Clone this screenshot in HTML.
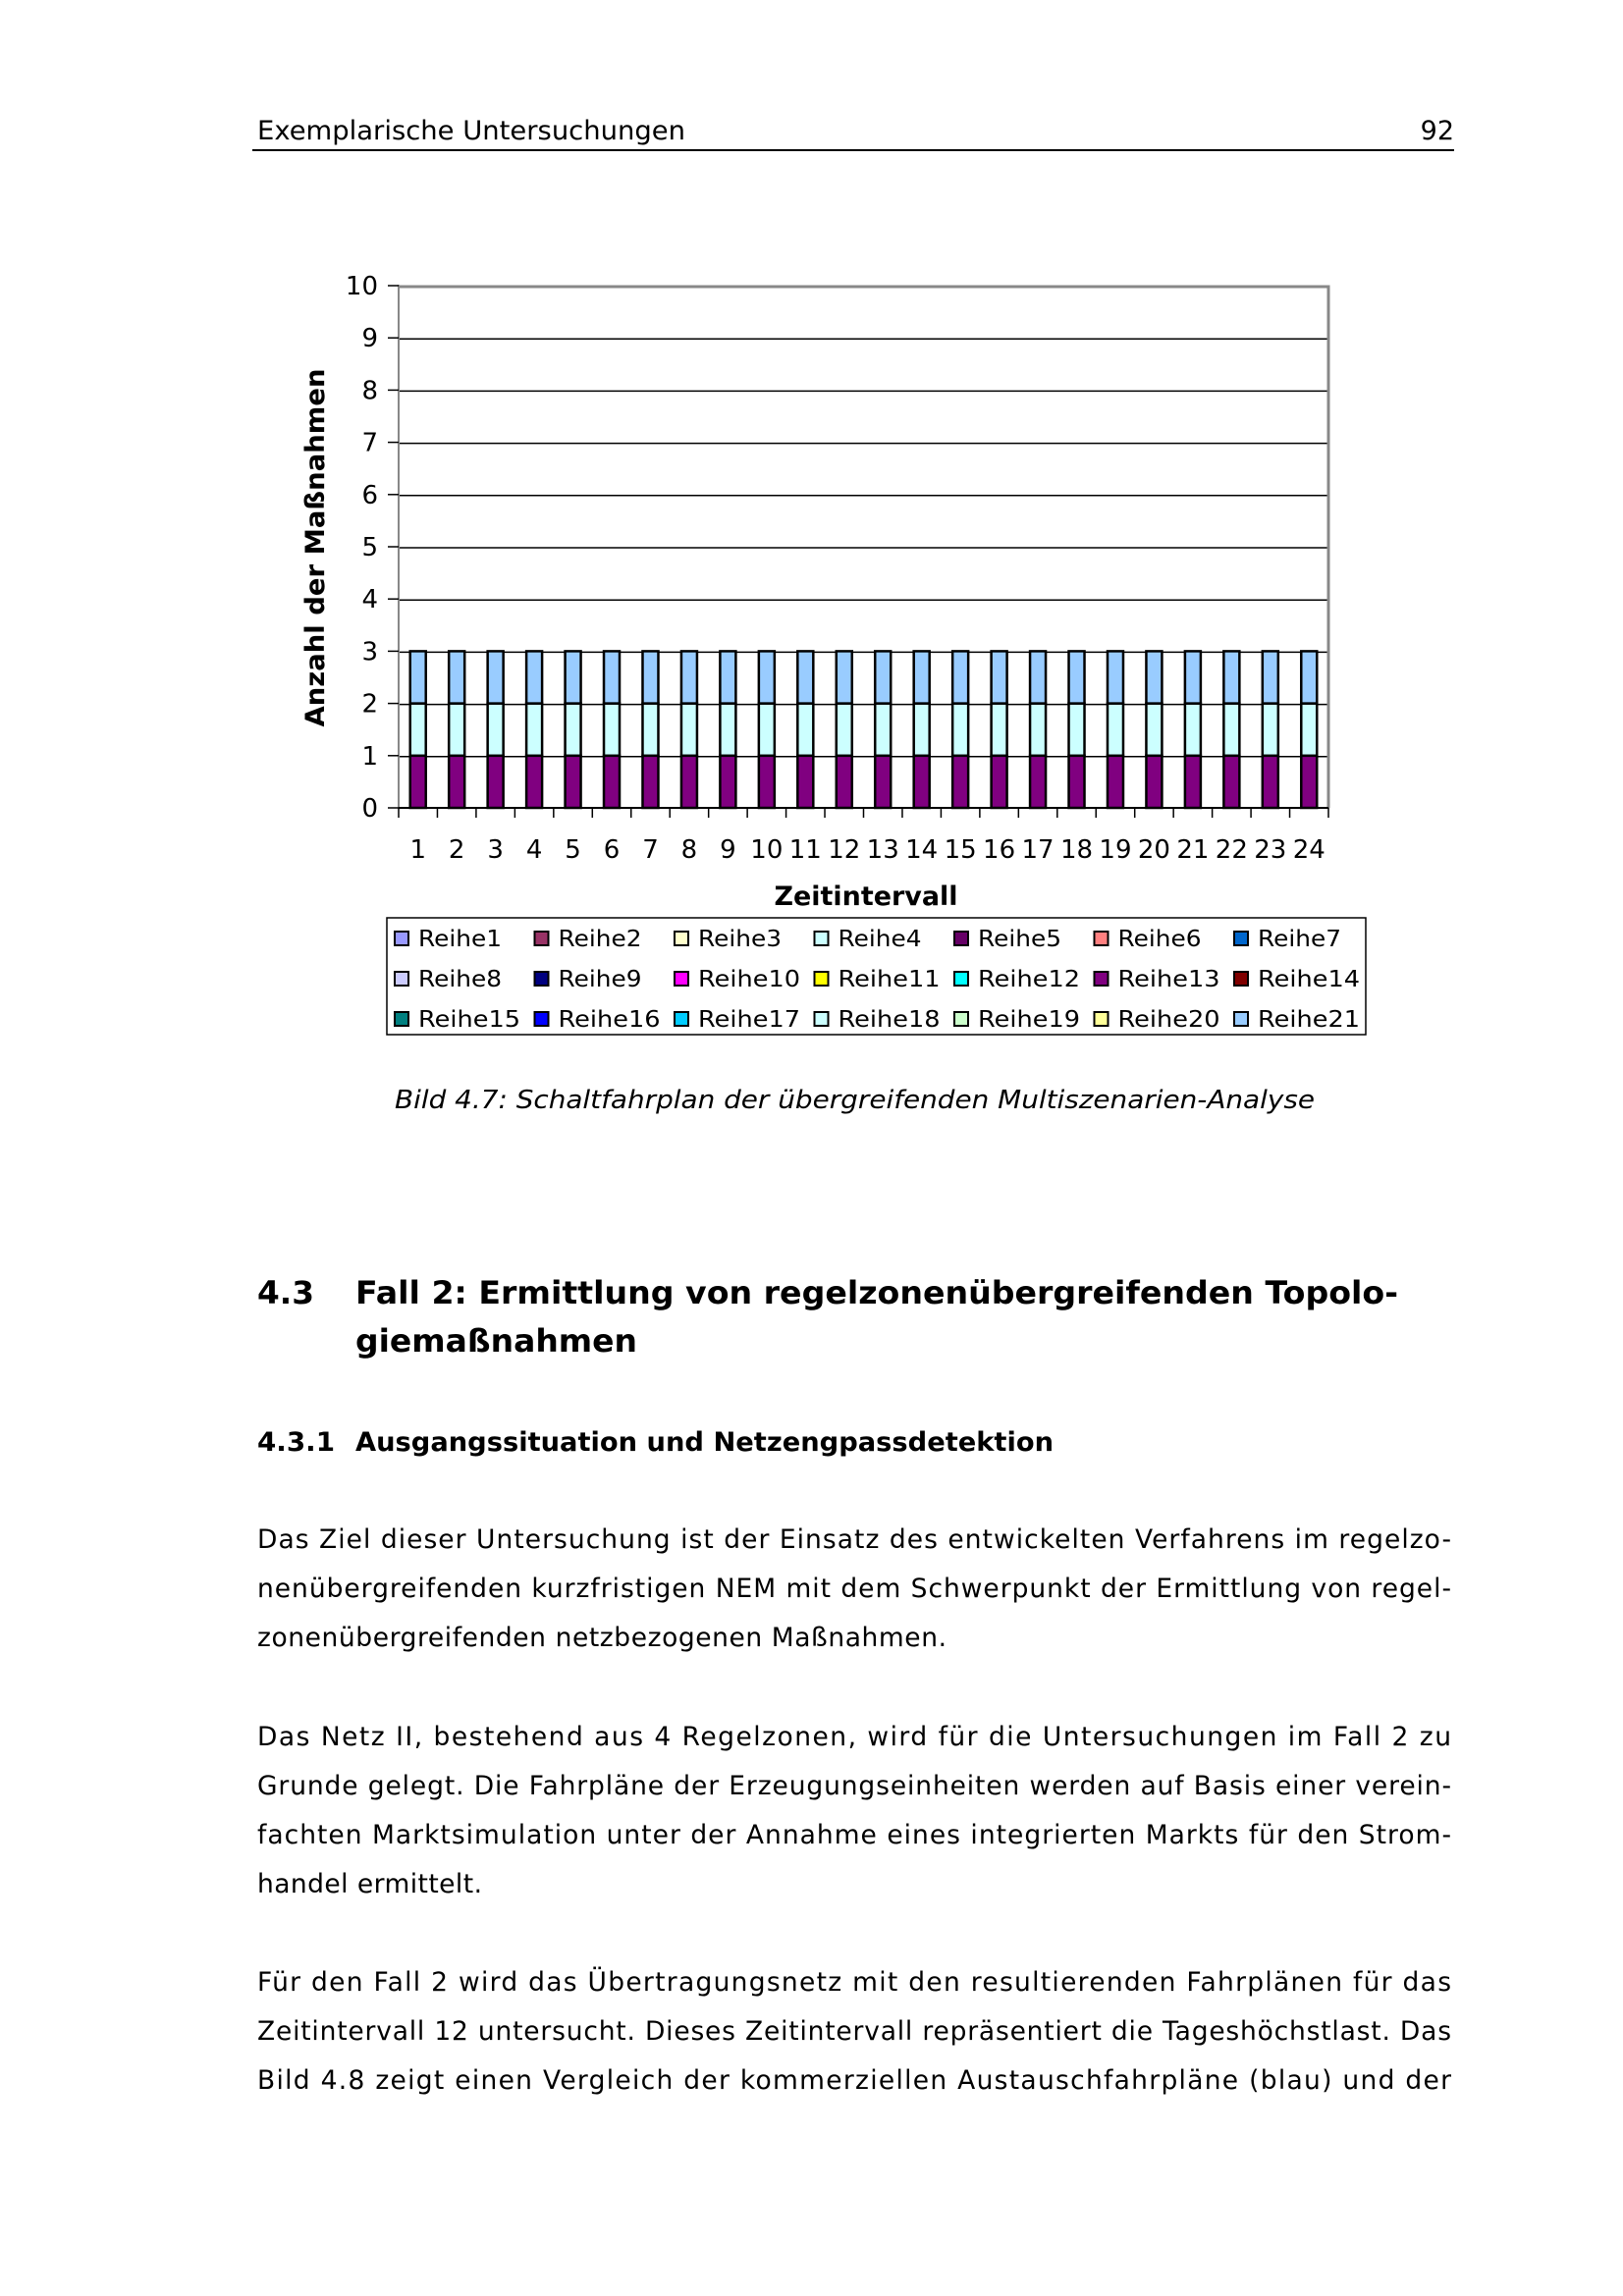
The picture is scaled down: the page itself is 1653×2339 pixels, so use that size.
<!DOCTYPE html>
<html><head><meta charset="utf-8"><style>
html,body{margin:0;padding:0;background:#fff;}
svg{display:block;}
text{font-family:"DejaVu Sans","Liberation Sans",sans-serif;fill:#000;}
</style></head><body>
<svg width="1653" height="2339" viewBox="0 0 1653 2339" xmlns="http://www.w3.org/2000/svg">
<rect width="1653" height="2339" fill="#fff"/>
<text x="262" y="142" font-size="27" textLength="436" lengthAdjust="spacingAndGlyphs">Exemplarische Untersuchungen</text>
<text x="1481" y="142" font-size="27" text-anchor="end">92</text>
<rect x="257" y="152" width="1224" height="2" fill="#000"/>

<g stroke="#000" stroke-width="1.5">
<line x1="406" y1="770.8" x2="1353" y2="770.8"/>
<line x1="406" y1="717.6" x2="1353" y2="717.6"/>
<line x1="406" y1="664.4" x2="1353" y2="664.4"/>
<line x1="406" y1="611.2" x2="1353" y2="611.2"/>
<line x1="406" y1="558" x2="1353" y2="558"/>
<line x1="406" y1="504.8" x2="1353" y2="504.8"/>
<line x1="406" y1="451.6" x2="1353" y2="451.6"/>
<line x1="406" y1="398.4" x2="1353" y2="398.4"/>
<line x1="406" y1="345.2" x2="1353" y2="345.2"/>
</g>
<polyline points="406,292 1353,292 1353,823" fill="none" stroke="#888" stroke-width="3"/>
<g id="bars" stroke="#000" stroke-width="2.5"></g>
<line x1="406" y1="290" x2="406" y2="823" stroke="#888" stroke-width="2"/>
<line x1="406" y1="823" x2="1353" y2="823" stroke="#000" stroke-width="2"/>
<g id="ticks" stroke="#000" stroke-width="1.5"></g>
<g id="ylab" font-size="26" text-anchor="end"></g>
<g id="xlab" font-size="26" text-anchor="middle"></g>
<text transform="translate(330,558) rotate(-90)" font-size="27" font-weight="bold" text-anchor="middle" textLength="365" lengthAdjust="spacingAndGlyphs">Anzahl der Maßnahmen</text>
<text x="882" y="922" font-size="27" font-weight="bold" text-anchor="middle" textLength="187" lengthAdjust="spacingAndGlyphs">Zeitintervall</text>

<rect x="394" y="935" width="997" height="119" fill="#fff" stroke="#000" stroke-width="1.5"/>
<g id="leg" font-size="23"></g>

<text x="402" y="1129" font-size="26" font-style="italic" textLength="937" lengthAdjust="spacingAndGlyphs">Bild 4.7: Schaltfahrplan der übergreifenden Multiszenarien-Analyse</text>

<g font-weight="bold" font-size="32">
<text x="262" y="1328" textLength="58" lengthAdjust="spacingAndGlyphs">4.3</text>
<text x="362" y="1328" textLength="1062" lengthAdjust="spacingAndGlyphs">Fall 2: Ermittlung von regelzonenübergreifenden Topolo-</text>
<text x="362" y="1377" textLength="287" lengthAdjust="spacingAndGlyphs">giemaßnahmen</text>
</g>
<g font-weight="bold" font-size="27">
<text x="262" y="1478" textLength="79" lengthAdjust="spacingAndGlyphs">4.3.1</text>
<text x="362" y="1478" textLength="711" lengthAdjust="spacingAndGlyphs">Ausgangssituation und Netzengpassdetektion</text>
</g>

<g font-size="26.5">
<text x="262" y="1577" textLength="1216" lengthAdjust="spacing">Das Ziel dieser Untersuchung ist der Einsatz des entwickelten Verfahrens im regelzo-</text>
<text x="262" y="1627" textLength="1216" lengthAdjust="spacing">nenübergreifenden kurzfristigen NEM mit dem Schwerpunkt der Ermittlung von regel-</text>
<text x="262" y="1677" textLength="702" lengthAdjust="spacing">zonenübergreifenden netzbezogenen Maßnahmen.</text>
<text x="262" y="1778" textLength="1216" lengthAdjust="spacing">Das Netz II, bestehend aus 4 Regelzonen, wird für die Untersuchungen im Fall 2 zu</text>
<text x="262" y="1828" textLength="1216" lengthAdjust="spacing">Grunde gelegt. Die Fahrpläne der Erzeugungseinheiten werden auf Basis einer verein-</text>
<text x="262" y="1878" textLength="1216" lengthAdjust="spacing">fachten Marktsimulation unter der Annahme eines integrierten Markts für den Strom-</text>
<text x="262" y="1928" textLength="229" lengthAdjust="spacing">handel ermittelt.</text>
<text x="262" y="2028" textLength="1216" lengthAdjust="spacing">Für den Fall 2 wird das Übertragungsnetz mit den resultierenden Fahrplänen für das</text>
<text x="262" y="2078" textLength="1216" lengthAdjust="spacing">Zeitintervall 12 untersucht. Dieses Zeitintervall repräsentiert die Tageshöchstlast. Das</text>
<text x="262" y="2128" textLength="1216" lengthAdjust="spacing">Bild 4.8 zeigt einen Vergleich der kommerziellen Austauschfahrpläne (blau) und der</text>
</g>
</svg>
<script>
(function(){
var NS="http://www.w3.org/2000/svg";
function el(p,t,a,txt){var e=document.createElementNS(NS,t);for(var k in a)e.setAttribute(k,a[k]);if(txt!=null)e.textContent=txt;document.getElementById(p).appendChild(e);}
var x0=406,cw=(1353-406)/24,y0=823,u=53.2;
var cols=["#800080","#CCFFFF","#99CCFF"];
for(var i=0;i<24;i++){
 var cx=x0+cw*(i+0.5);
 for(var s=0;s<3;s++){el("bars","rect",{x:cx-8,y:y0-u*(s+1),width:16,height:u,fill:cols[s]});}
 el("xlab","text",{x:cx,y:874},String(i+1));
}
for(var i=0;i<=24;i++){var x=x0+cw*i;el("ticks","line",{x1:x,y1:823,x2:x,y2:833});}
for(var v=0;v<=10;v++){var y=y0-u*v;el("ticks","line",{x1:395,y1:y,x2:406,y2:y});el("ylab","text",{x:385,y:y+9},String(v));}
var lc=["#9999FF","#993366","#FFFFCC","#CCFFFF","#660066","#FF8080","#0066CC","#CCCCFF","#000080","#FF00FF","#FFFF00","#00FFFF","#800080","#800000","#008080","#0000FF","#00CCFF","#CCFFFF","#CCFFCC","#FFFF99","#99CCFF"];
var rows=[956,997,1038];
for(var n=0;n<21;n++){var r=Math.floor(n/7),c=n%7;var x=402+c*142.5,y=rows[r];
 el("leg","rect",{x:x,y:y-7,width:14,height:14,fill:lc[n],stroke:"#000","stroke-width":2});
 var lbl="Reihe"+(n+1);
 el("leg","text",{x:x+24,y:y+8,textLength:(n<9?85:104),lengthAdjust:"spacingAndGlyphs"},lbl);
}
})();
</script>
</body></html>
